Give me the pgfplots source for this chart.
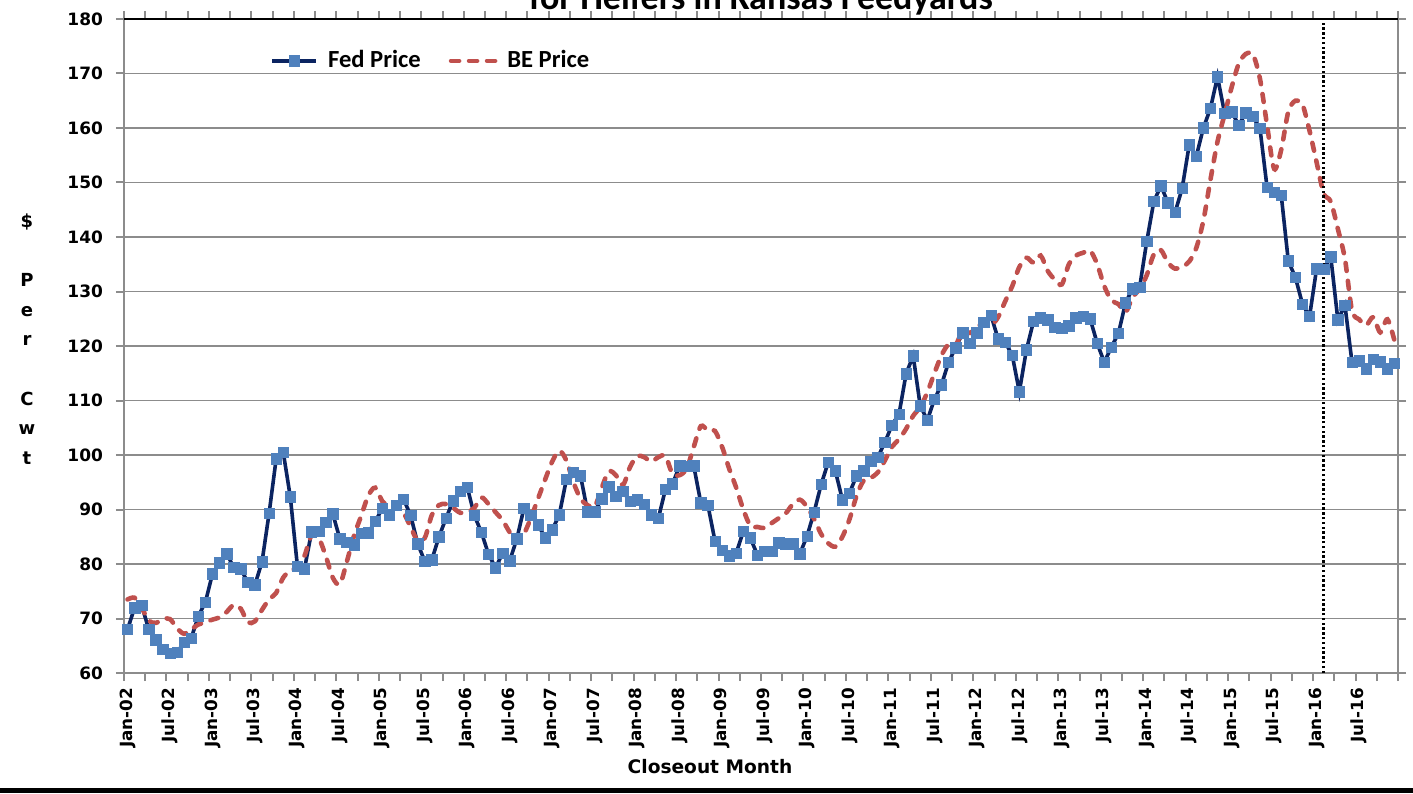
\documentclass[border=0pt]{standalone}
\usepackage{fontspec}
\setmainfont{DejaVu Sans}
\newfontfamily\calb{Carlito}
\usepackage{pgfplots}
\pgfplotsset{compat=1.18}
\definecolor{fednavy}{HTML}{0B2461}
\definecolor{fedmark}{HTML}{4F81BD}
\definecolor{bered}{HTML}{C0504D}
\definecolor{gridgray}{HTML}{8C8C8C}

\begin{document}
\begin{tikzpicture}
\begin{axis}[
  width=637pt,height=327pt,scale only axis,
  xmin=-0.5,xmax=179.5,ymin=60,ymax=180,
  ytick={60,70,...,180},
  xtick={0,6,...,174},
  xticklabels={Jan-02,Jul-02,Jan-03,Jul-03,Jan-04,Jul-04,Jan-05,Jul-05,Jan-06,Jul-06,
    Jan-07,Jul-07,Jan-08,Jul-08,Jan-09,Jul-09,Jan-10,Jul-10,Jan-11,Jul-11,
    Jan-12,Jul-12,Jan-13,Jul-13,Jan-14,Jul-14,Jan-15,Jul-15,Jan-16,Jul-16},
  minor xtick={-0.5,2.5,...,179.5},
  tick align=outside,
  major tick length=4pt,minor tick length=4pt,
  major x tick style={draw=none},
  every tick/.style={gridgray,line width=1pt},
  every minor tick/.style={gridgray,line width=1pt},
  ymajorgrids,grid style={gridgray,line width=0.9pt},
  axis line style={gridgray,line width=1pt},
  /pgf/number format/assume math mode=true,
  yticklabel style={font=\bfseries\fontsize{8.5}{10}\selectfont,xshift=-3pt},
  xticklabel style={rotate=90,anchor=east,font=\bfseries\fontsize{8.4}{9}\selectfont},
  legend style={draw=none,fill=none,at={(rel axis cs:0.11,0.936)},anchor=west,
    legend columns=2,font=\calb\bfseries\fontsize{12.3}{13}\selectfont,
    /tikz/every even column/.append style={column sep=12pt}},
  legend image code/.code={\draw[mark repeat=2,mark phase=2,#1] plot coordinates {(0pt,0pt) (11pt,0pt) (22pt,0pt)};},
]
\addplot[color=fednavy,line width=1.8pt,mark=square*,mark size=2.6pt,
  mark options={fill=fedmark,draw=fedmark,line width=0.3pt,solid}] coordinates {
(0,68.0) (1,72.0) (2,72.4) (3,68.0) (4,66.1) (5,64.4) (6,63.6) (7,63.8) (8,65.6) (9,66.4)
(10,70.4) (11,73.0) (12,78.2) (13,80.2) (14,81.9) (15,79.4) (16,79.1) (17,76.6) (18,76.2) (19,80.4)
(20,89.3) (21,99.3) (22,100.5) (23,92.3) (24,79.6) (25,79.1) (26,85.9) (27,86.0) (28,87.7) (29,89.2)
(30,84.6) (31,84.0) (32,83.5) (33,85.6) (34,85.7) (35,87.8) (36,90.2) (37,89.0) (38,90.8) (39,91.9)
(40,88.9) (41,83.7) (42,80.5) (43,80.8) (44,85.0) (45,88.4) (46,91.6) (47,93.3) (48,94.1) (49,88.9)
(50,85.8) (51,81.8) (52,79.3) (53,82.0) (54,80.6) (55,84.6) (56,90.2) (57,88.9) (58,87.2) (59,84.8)
(60,86.3) (61,89.0) (62,95.5) (63,96.8) (64,96.2) (65,89.6) (66,89.6) (67,92.0) (68,94.2) (69,92.4)
(70,93.3) (71,91.5) (72,91.8) (73,91.0) (74,89.0) (75,88.4) (76,93.7) (77,94.7) (78,98.0) (79,97.9)
(80,98.0) (81,91.2) (82,90.8) (83,84.2) (84,82.5) (85,81.5) (86,82.0) (87,86.0) (88,84.8) (89,81.6)
(90,82.3) (91,82.3) (92,83.9) (93,83.7) (94,83.7) (95,81.9) (96,85.1) (97,89.5) (98,94.6) (99,98.7)
(100,97.1) (101,91.8) (102,93.0) (103,96.2) (104,97.1) (105,98.8) (106,99.6) (107,102.3) (108,105.5) (109,107.5)
(110,114.9) (111,118.2) (112,109.0) (113,106.4) (114,110.2) (115,112.9) (116,117.0) (117,119.7) (118,122.4) (119,120.5)
(120,122.4) (121,124.3) (122,125.6) (123,121.3) (124,120.7) (125,118.3) (126,111.6) (127,119.3) (128,124.5) (129,125.2)
(130,124.8) (131,123.4) (132,123.2) (133,123.7) (134,125.2) (135,125.5) (136,125.0) (137,120.5) (138,117.0) (139,119.8)
(140,122.3) (141,127.9) (142,130.5) (143,130.8) (144,139.2) (145,146.5) (146,149.4) (147,146.3) (148,144.5) (149,148.9)
(150,156.9) (151,154.8) (152,160.0) (153,163.6) (154,169.4) (155,162.7) (156,163.0) (157,160.5) (158,162.8) (159,162.1)
(160,159.9) (161,149.1) (162,148.2) (163,147.7) (164,135.6) (165,132.6) (166,127.7) (167,125.4) (168,134.2) (169,134.1)
(170,136.4) (171,124.8) (172,127.5) (173,117.0) (174,117.3) (175,115.8) (176,117.6) (177,117.1) (178,115.8) (179,116.8)
};
\addlegendentry{\hspace{3pt}Fed Price}
\addplot[color=bered,line width=2.3pt,smooth,tension=0.5,line cap=round,dash pattern=on 4pt off 5pt,no marks] coordinates {
(0,73.5) (1,73.8) (2,72.0) (3,69.6) (4,69.2) (5,69.9) (6,69.9) (7,68.2) (8,67.2) (9,68.0)
(10,68.9) (11,69.3) (12,69.8) (13,70.2) (14,71.2) (15,72.5) (16,71.8) (17,69.3) (18,69.5) (19,71.6)
(20,73.5) (21,74.7) (22,77.5) (23,78.8) (24,79.4) (25,81.5) (26,85.3) (27,84.8) (28,81.5) (29,77.5)
(30,76.3) (31,80.5) (32,85.2) (33,88.8) (34,92.5) (35,94.0) (36,91.5) (37,90.6) (38,91.0) (39,89.4)
(40,86.8) (41,84.2) (42,84.8) (43,89.0) (44,90.8) (45,91.0) (46,90.3) (47,89.4) (48,89.5) (49,90.3)
(50,92.2) (51,91.0) (52,89.5) (53,88.0) (54,85.8) (55,84.0) (56,85.5) (57,88.5) (58,92.0) (59,95.5)
(60,98.8) (61,100.8) (62,99.0) (63,95.0) (64,92.0) (65,90.8) (66,90.5) (67,94.0) (68,97.0) (69,96.3)
(70,94.5) (71,97.8) (72,99.8) (73,99.6) (74,98.8) (75,99.6) (76,99.8) (77,96.5) (78,96.3) (79,97.5)
(80,101.5) (81,105.3) (82,104.5) (83,104.4) (84,101.5) (85,97.5) (86,94.0) (87,90.0) (88,87.0) (89,86.8)
(90,86.6) (91,87.5) (92,88.4) (93,89.3) (94,91.0) (95,91.8) (96,90.5) (97,88.3) (98,85.5) (99,83.8)
(100,83.2) (101,85.0) (102,88.2) (103,92.5) (104,95.3) (105,95.8) (106,96.8) (107,99.0) (108,101.5) (109,102.9)
(110,104.8) (111,107.2) (112,108.8) (113,111.5) (114,115.0) (115,118.3) (116,120.3) (117,120.2) (118,122.8) (119,122.4)
(120,123.4) (121,124.3) (122,123.8) (123,125.3) (124,128.2) (125,131.0) (126,134.5) (127,136.2) (128,135.3) (129,136.6)
(130,133.8) (131,132.2) (132,131.3) (133,135.0) (134,136.6) (135,137.1) (136,137.5) (137,135.0) (138,131.0) (139,128.4)
(140,127.7) (141,126.2) (142,129.0) (143,130.4) (144,133.0) (145,136.8) (146,137.6) (147,135.3) (148,134.2) (149,134.5)
(150,135.5) (151,138.0) (152,143.0) (153,150.5) (154,157.5) (155,162.5) (156,167.5) (157,171.8) (158,173.6) (159,173.5)
(160,169.0) (161,160.5) (162,152.5) (163,156.0) (164,163.0) (165,165.0) (166,164.3) (167,159.5) (168,153.7) (169,148.0)
(170,146.5) (171,141.5) (172,136.0) (173,126.5) (174,124.9) (175,123.8) (176,125.3) (177,122.5) (178,124.9) (179,121.0)
};
\addlegendentry{\hspace{3pt}BE Price}
\draw[black,line width=1.2pt,dash pattern=on 1.2pt off 1.2pt] (axis cs:169,60) -- (axis cs:169,180);
\draw[black,line width=1pt] (rel axis cs:0,1) -- (rel axis cs:1,1);
\end{axis}
\node[font=\calb\bfseries\fontsize{18}{20}\selectfont,anchor=base] at (318.5pt,331.5pt) {for Heifers in Kansas Feedyards};
\node[font=\bfseries\fontsize{9.3}{11}\selectfont] at (293pt,-47pt) {Closeout Month};
\node[align=center,font=\bfseries\fontsize{9}{14.8}\selectfont] at (-48.5pt,167pt) {\$\\[14.8pt]P\\e\\r\\[14.8pt]C\\w\\t};
\fill[black] (-62pt,-60pt) rectangle (644.5pt,-57.5pt);
\pgfresetboundingbox
\path[use as bounding box] (-62pt,-60pt) rectangle (644.5pt,336.5pt);
\end{tikzpicture}
\end{document}
